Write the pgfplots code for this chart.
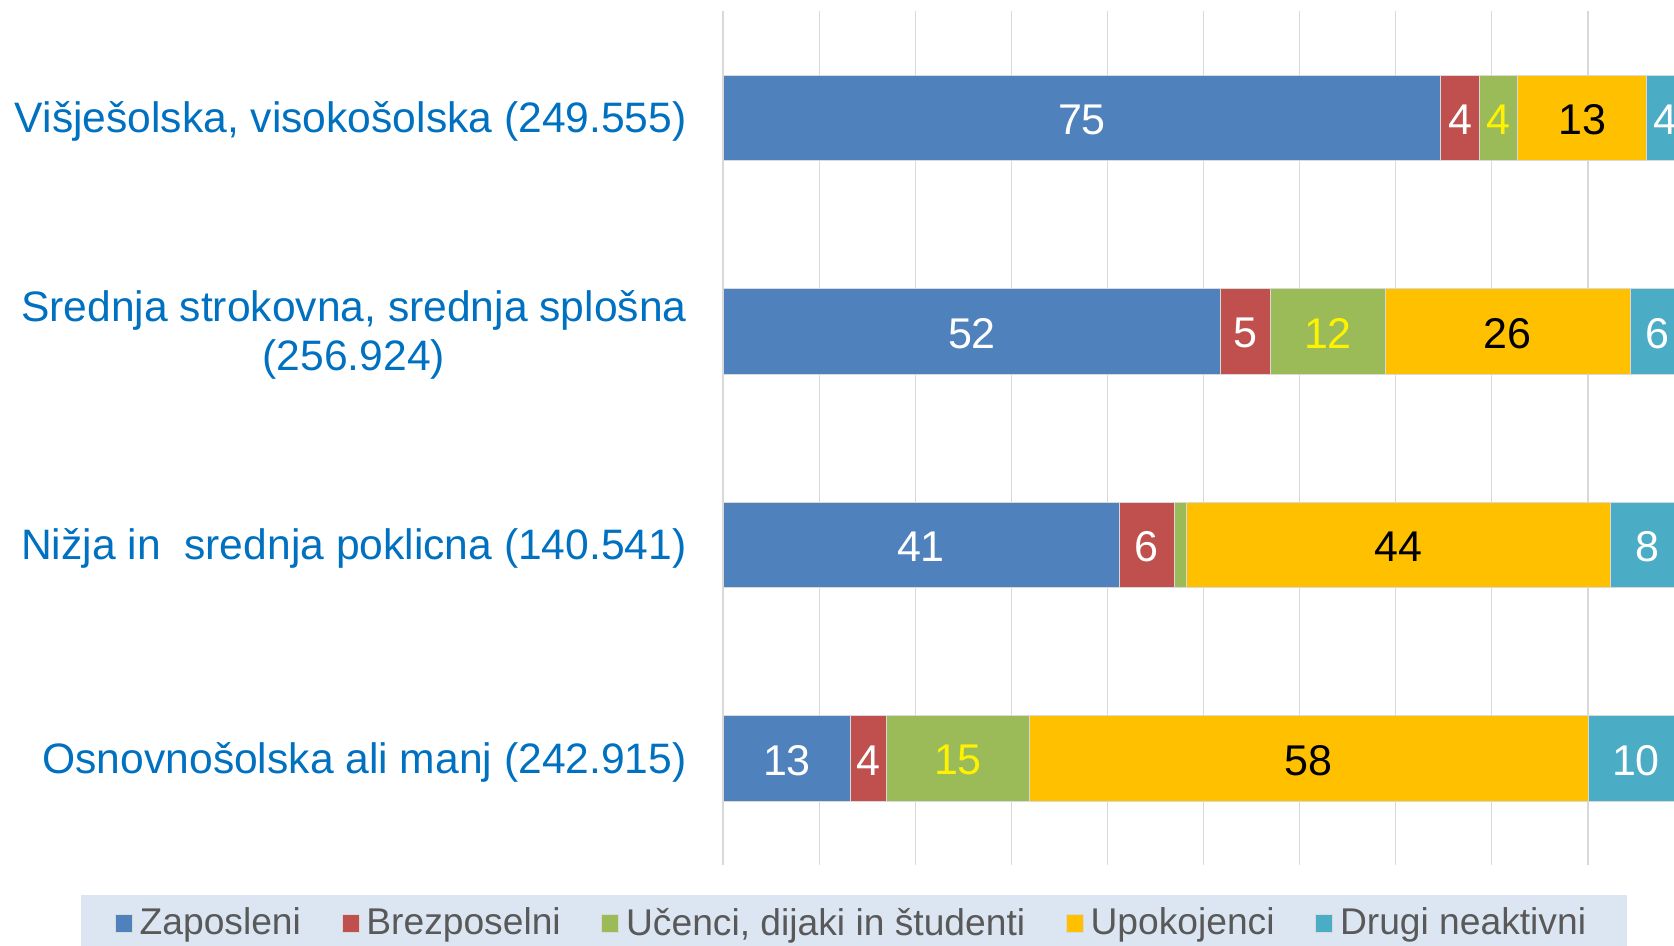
\documentclass[border=0pt]{standalone}
\usepackage{fontspec}
\setmainfont{Liberation Sans}
\usepackage{pgfplots}
\pgfplotsset{compat=1.18}
\definecolor{zap}{HTML}{4F81BD}
\definecolor{brez}{HTML}{C0504D}
\definecolor{uc}{HTML}{9BBB59}
\definecolor{upo}{HTML}{FFC000}
\definecolor{drugi}{HTML}{4BACC6}
\definecolor{catblue}{HTML}{0070C0}
\definecolor{gridgray}{HTML}{D9D9D9}
\definecolor{legbg}{HTML}{DCE6F2}
\definecolor{legtext}{HTML}{595959}

\pgfplotsset{
  base/.style={
    at={(361.5pt,40.5pt)}, anchor=south west,
    scale only axis, width=480.5pt, height=427pt,
    xmin=0, xmax=100, ymin=-0.5, ymax=3.5, y dir=reverse,
  },
  lbl/.style={draw=none, mark=none, nodes near coords, point meta=explicit symbolic,
    nodes near coords align=center,
    every node near coord/.append style={font=\fontsize{21.5}{24}\selectfont, inner sep=0pt,
      yshift=-1pt, text=#1}},
}

\begin{document}
\begin{tikzpicture}
\begin{axis}[base,
  xbar stacked, bar width=42.7pt,
  xtick={0,10,...,100}, xticklabels={},
  xmajorgrids, grid style={gridgray, line width=0.6pt},
  ytick={0,1,2,3},
  yticklabels={{Višješolska, visokošolska (249.555)},
    {Srednja strokovna, srednja splošna\\(256.924)},
    {Nižja in~ srednja poklicna (140.541)},
    {Osnovnošolska ali manj (242.915)}},
  yticklabel style={align=center, text=catblue, font=\fontsize{21.3}{24.5}\selectfont,
    inner sep=0pt, xshift=-18pt, yshift=-2pt},
  major tick length=0pt,
  axis line style={draw=none},
  legend style={at={(0.1363,-0.0679)}, anchor=center, draw=none, fill=legbg,
    legend columns=5, font=\fontsize{18.6}{20}\selectfont, text=legtext,
    minimum width=773pt, minimum height=28pt,
    nodes={minimum width=0pt, minimum height=0pt, inner xsep=3.5pt},
    /tikz/every even column/.append style={column sep=16.8pt}},
  legend cell align=left,
  legend image code/.code={\fill[#1] (0pt,-4.5pt) rectangle (8.5pt,4.5pt);},
]
% share of each group, percent
\addplot[fill=zap, draw=gridgray, line width=0.4pt] coordinates {(74.7,0) (51.8,1) (41.2,2) (13.3,3)};
\addplot[fill=brez, draw=gridgray, line width=0.4pt] coordinates {(4.0,0) (5.2,1) (5.8,2) (3.7,3)};
\addplot[fill=uc, draw=gridgray, line width=0.4pt] coordinates {(4.0,0) (11.9,1) (1.2,2) (14.9,3)};
\addplot[fill=upo, draw=gridgray, line width=0.4pt] coordinates {(13.4,0) (25.5,1) (44.1,2) (58.1,3)};
\addplot[fill=drugi, draw=gridgray, line width=0.4pt] coordinates {(3.9,0) (5.6,1) (7.7,2) (10.0,3)};
\legend{Zaposleni, Brezposelni, {Učenci, dijaki in študenti}, Upokojenci, Drugi neaktivni}
\end{axis}
% value labels at segment centres
\begin{axis}[base, hide axis]
\addplot[lbl=white] coordinates {(37.35,0) [75] (25.9,1) [52] (20.6,2) [41] (6.65,3) [13]};
\addplot[lbl=white] coordinates {(76.7,0) [4] (54.4,1) [5] (44.1,2) [6] (15.15,3) [4]};
\addplot[lbl=yellow] coordinates {(80.7,0) [4] (62.95,1) [12] (24.45,3) [15]};
\addplot[lbl=black] coordinates {(89.4,0) [13] (81.65,1) [26] (70.25,2) [44] (60.95,3) [58]};
\addplot[lbl=white] coordinates {(98.05,0) [4] (97.2,1) [6] (96.15,2) [8] (95.0,3) [10]};
\end{axis}
\pgfresetboundingbox
\path[use as bounding box] (0,0) rectangle (837pt,473pt);
\end{tikzpicture}
\end{document}
